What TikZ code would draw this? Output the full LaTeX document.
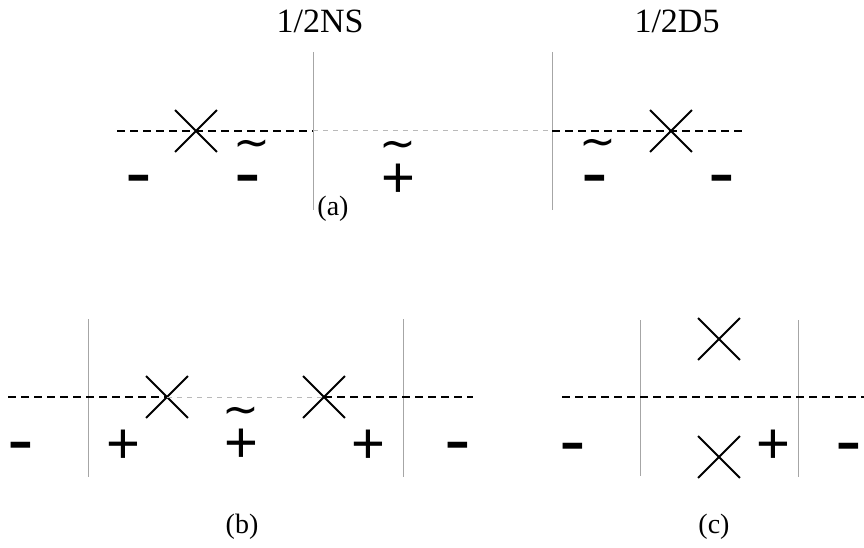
\documentclass[tikz,border=0pt]{standalone}
\usepackage{fontspec}
\setmainfont{Liberation Serif}
\newfontfamily\signfont{Liberation Sans}
\newfontfamily\dejavu{DejaVu Sans}
\usetikzlibrary{shapes.misc}
\begin{document}
\begin{tikzpicture}[x=1pt,y=-1pt,
  title/.style={font=\fontsize{34}{40}\selectfont, inner sep=0pt},
  caption/.style={font=\fontsize{28}{32}\selectfont, inner sep=0pt},
  pl/.style={font=\signfont\fontsize{58}{58}\selectfont, inner sep=0pt, text height=34pt, text depth=0pt, anchor=base, yshift=-20pt},
  mn/.style={font=\dejavu\fontsize{74}{74}\selectfont, inner sep=0pt, text height=30pt, text depth=0pt, anchor=base, yshift=-25pt},
  tl/.style={font=\dejavu\fontsize{44}{44}\selectfont, inner sep=0pt, text height=18pt, text depth=0pt, anchor=base, yshift=-14pt},
  xmark/.style={cross out, draw, line width=1.8pt, minimum size=40pt, inner sep=0pt},
  vline/.style={draw=gray!70, line width=1pt},
  dline/.style={draw=black, line width=1.2pt, dash pattern=on 8pt off 5pt},
  lightdash/.style={draw=gray!55, line width=1pt, dash pattern=on 5pt off 5pt}]
\useasboundingbox (0,0) rectangle (864,548);

% ---------------- (a) ----------------
\node[title] (tNS) at (320,21) {1/2NS};
\node[title] (tD5) at (677,21) {1/2D5};
\coordinate (a1t) at (313,52); \coordinate (a1b) at (313,210);
\coordinate (a2t) at (552,52); \coordinate (a2b) at (552,210);
\coordinate (a1m) at (313,131); \coordinate (a2m) at (552,131);
\coordinate (aL) at (117,131); \coordinate (aR) at (742,131);
\draw[vline] (a1t) -- (a1b);
\draw[vline] (a2t) -- (a2b);
\draw[dline] (aL) -- (a1m);
\draw[lightdash] (a1m) -- (a2m);
\draw[dline] (a2m) -- (aR);
\node[xmark] (aX1) at (196,131) {};
\node[xmark] (aX2) at (671,131) {};
\node[mn] (am1) at (139,174) {-};
\node[tl] (at1) at (252,144) {∼};
\node[mn] (am2) at (248,173) {-};
\node[tl] (at2) at (398,145) {∼};
\node[pl] (ap1) at (398,177) {+};
\node[tl] (at3) at (598,143) {∼};
\node[mn] (am3) at (595,173) {-};
\node[mn] (am4) at (722,174) {-};
\node[caption] (capa) at (333,209) {(a)};

% ---------------- (b) ----------------
\coordinate (b1t) at (88,319); \coordinate (b1b) at (88,477);
\coordinate (b2t) at (403,319); \coordinate (b2b) at (403,477);
\coordinate (b1m) at (88,397); \coordinate (b2m) at (403,397);
\coordinate (bL) at (8,397); \coordinate (bR) at (473,397);
\draw[vline] (b1t) -- (b1b);
\draw[vline] (b2t) -- (b2b);
\node[xmark] (bX1) at (167,397) {};
\node[xmark] (bX2) at (324,397) {};
\draw[dline] (bL) -- (b1m) -- (bX1.center);
\draw[lightdash] (bX1.center) -- (bX2.center);
\draw[dline] (bX2.center) -- (b2m) -- (bR);
\node[mn] (bm1) at (21,440) {-};
\node[pl] (bp1) at (123,443) {+};
\node[tl] (bt1) at (241,410) {∼};
\node[pl] (bp2) at (241,442) {+};
\node[pl] (bp3) at (368,443) {+};
\node[mn] (bm2) at (458,440) {-};
\node[caption] (capb) at (242,527) {(b)};

% ---------------- (c) ----------------
\coordinate (c1t) at (640,320); \coordinate (c1b) at (640,476);
\coordinate (c2t) at (798,320); \coordinate (c2b) at (798,477);
\coordinate (cL) at (562,397); \coordinate (cR) at (864,397);
\draw[vline] (c1t) -- (c1b);
\draw[vline] (c2t) -- (c2b);
\draw[dline] (cL) -- (cR);
\node[xmark] (cX1) at (719,339) {};
\node[xmark] (cX2) at (719,457) {};
\node[mn] (cm1) at (573,441) {-};
\node[pl] (cp1) at (773,443) {+};
\node[mn] (cm2) at (849,441) {-};
\node[caption] (capc) at (714,527) {(c)};
\end{tikzpicture}
\end{document}
